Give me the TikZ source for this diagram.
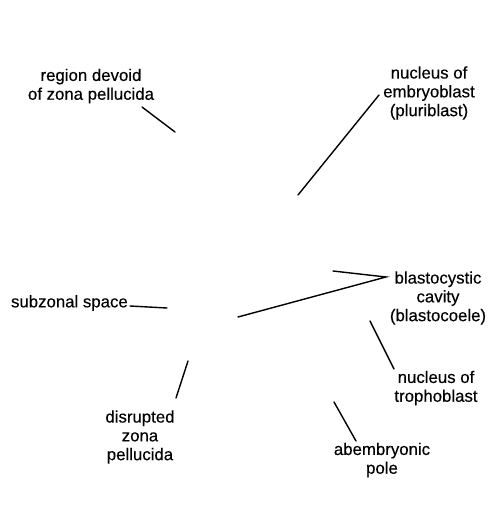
\documentclass[tikz,border=0pt]{standalone}
\usepackage{fontspec}
\setmainfont{Liberation Sans}[UprightFeatures={FakeBold=0.3}]
\begin{document}
\begin{tikzpicture}[x=1pt,y=-1pt,
  lbl/.style={align=center,inner sep=0pt,font=\fontsize{16.8}{18.8}\selectfont},
  leader/.style={line width=1.4pt,line cap=round}]
\useasboundingbox (0,0) rectangle (487,527);
\node[lbl] (region) at (91,86) {region devoid\\of zona pellucida};
\node[lbl] (embryo) at (429,93) {nucleus of\\embryoblast\\(pluriblast)};
\node[lbl,anchor=east] (subzonal) at (128,303) {subzonal space};
\node[lbl] (cavity) at (438,298) {blastocystic\\cavity\\(blastocoele)};
\node[lbl] (troph) at (436,388) {nucleus of\\trophoblast};
\node[lbl] (abemb) at (382,460) {abembryonic\\pole};
\node[lbl] (disr) at (140,437) {disrupted\\zona\\pellucida};
% leader ends
\coordinate (regionA) at (142,107);
\coordinate (regionB) at (175,132);
\coordinate (embryoA) at (379,95);
\coordinate (embryoB) at (298,195);
\coordinate (subzA) at (130,306);
\coordinate (subzB) at (167,308);
\coordinate (cavA) at (386,277);
\coordinate (cavB) at (333,271);
\coordinate (cavC) at (238,317);
\coordinate (trophA) at (394,369);
\coordinate (trophB) at (370,321);
\coordinate (abembA) at (356,441);
\coordinate (abembB) at (334,402);
\coordinate (disrA) at (176,398);
\coordinate (disrB) at (188,361);
\draw[leader] (regionA) -- (regionB);
\draw[leader] (embryoA) -- (embryoB);
\draw[leader] (subzA) -- (subzB);
\draw[leader] (cavB) -- (cavA) -- (cavC);
\draw[leader] (trophA) -- (trophB);
\draw[leader] (abembA) -- (abembB);
\draw[leader] (disrA) -- (disrB);
\end{tikzpicture}
\end{document}
